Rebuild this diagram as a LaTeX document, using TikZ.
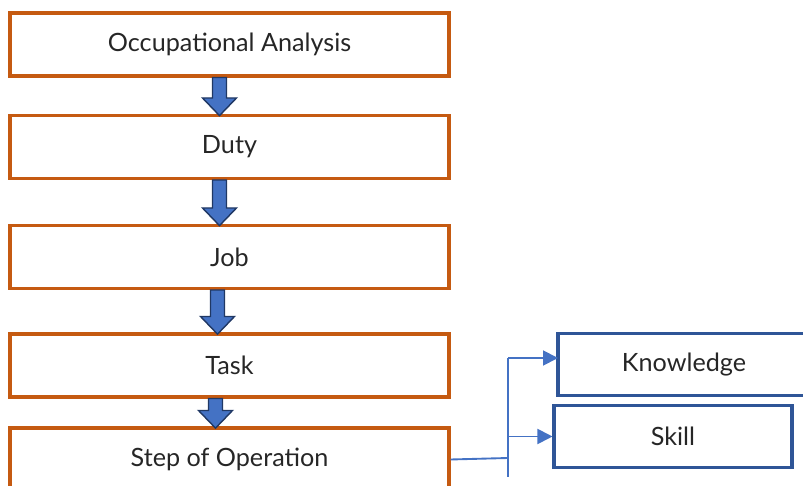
\documentclass[tikz,border=0pt]{standalone}
\usepackage{xcolor}
\usepackage{fontspec}
\setmainfont{Lato}
\usetikzlibrary{arrows.meta, calc}

\definecolor{boxorange}{HTML}{C55A11}
\definecolor{boxblue}{HTML}{2F5597}
\definecolor{flowfill}{HTML}{4472C4}
\definecolor{flowedge}{HTML}{203864}
\definecolor{textgray}{HTML}{262626}

% block arrow between two stacked boxes, dx shifts it off centre
\newcommand{\flowarrow}[3]{%
  \draw[flowarrow] let \p1=(#1.south), \p2=(#2.north) in
    (\x1+#3-0.21cm,\y1) -- (\x1+#3+0.21cm,\y1) -- (\x1+#3+0.21cm,\y2+0.48cm)
    -- (\x1+#3+0.51cm,\y2+0.48cm) -- (\x1+#3,\y2-0.05cm) -- (\x1+#3-0.51cm,\y2+0.48cm)
    -- (\x1+#3-0.21cm,\y2+0.48cm) -- cycle;}

\begin{document}
\begin{tikzpicture}[x=0.03cm, y=-0.03cm, >={Triangle[length=0.45cm, width=0.45cm]},
  every node/.style={font=\fontsize{21.5}{25}\selectfont, text=textgray},
  stagebox/.style={draw=boxorange, line width=2.6pt, minimum width=13.17cm, minimum height=1.89cm},
  outbox/.style={draw=boxblue, line width=2.6pt, minimum height=1.86cm},
  flowarrow/.style={fill=flowfill, draw=flowedge, line width=1.2pt, line join=miter},
  link/.style={draw=flowfill, line width=1.6pt}]
  \useasboundingbox (0,0) rectangle (803,486);
  \clip (0,0) rectangle (803,486);

  \node[stagebox] (occ) at (229.5,44.5) {Occupational Analysis};
  \node[stagebox] (duty) at (229.5,147) {Duty};
  \node[stagebox] (job) at (229.5,257) {Job};
  \node[stagebox] (task) at (229.5,365.5) {Task};
  \node[stagebox] (step) at (229.5,459.5) {Step of Operation};

  \node[outbox, minimum width=7.56cm] (know) at (684,364.5) {Knowledge};
  \node[outbox, minimum width=7.14cm] (skill) at (673,436.5) {Skill};

  \flowarrow{occ}{duty}{-0.3cm}
  \flowarrow{duty}{job}{-0.3cm}
  \flowarrow{job}{task}{-0.36cm}
  \flowarrow{task}{step}{-0.42cm}

  \coordinate (split) at (508,458);
  \coordinate (splittop) at (508,358);
  \coordinate (splitend) at (508,477);
  \coordinate (kin) at (558,358);
  \draw[link] (step.east) -- (split);
  \draw[link] (splittop) -- (splitend);
  \draw[link, ->] (splittop) -- (kin);
  \draw[link, ->] (split |- skill.west) -- (skill.west);
\end{tikzpicture}
\end{document}
